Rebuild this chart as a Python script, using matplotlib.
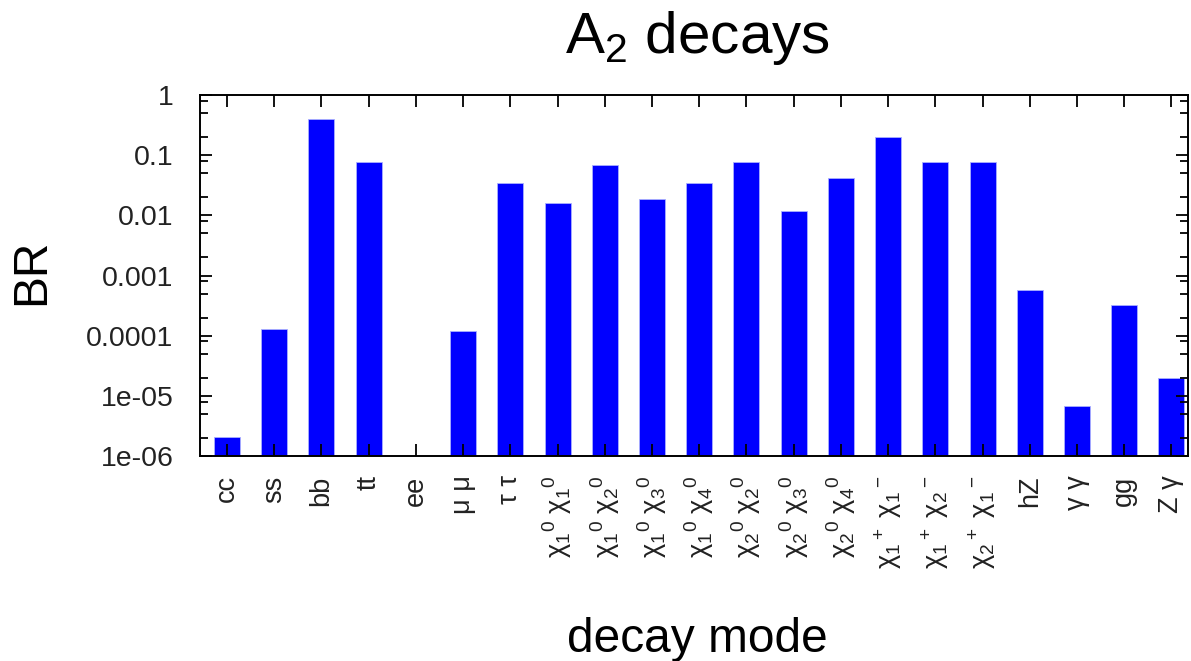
import matplotlib
matplotlib.use('Agg')
import matplotlib.pyplot as plt
from matplotlib.ticker import LogLocator, NullFormatter

plt.rcParams['font.family'] = ['Liberation Sans', 'DejaVu Sans']
plt.rcParams['mathtext.fontset'] = 'custom'
plt.rcParams['mathtext.rm'] = 'Liberation Sans'
plt.rcParams['mathtext.it'] = 'Liberation Sans:italic'
plt.rcParams['mathtext.default'] = 'rm'

# decay modes of A2 and their branching ratios
modes = ['cc', 'ss', 'bb', 'tt', 'ee', 'μ μ', 'τ τ',
         'χ$_1{}^0$ χ$_1{}^0$', 'χ$_1{}^0$ χ$_2{}^0$', 'χ$_1{}^0$ χ$_3{}^0$',
         'χ$_1{}^0$ χ$_4{}^0$', 'χ$_2{}^0$ χ$_2{}^0$', 'χ$_2{}^0$ χ$_3{}^0$',
         'χ$_2{}^0$ χ$_4{}^0$', 'χ$_1{}^+$ χ$_1{}^-$', 'χ$_1{}^+$ χ$_2{}^-$',
         'χ$_2{}^+$ χ$_1{}^-$', 'hZ', 'γ γ', 'gg', 'Z γ']
br = [2.1e-6, 1.3e-4, 0.40, 0.076, 0.0, 1.2e-4, 0.034,
      0.016, 0.069, 0.019, 0.034, 0.076, 0.0118, 0.041,
      0.20, 0.076, 0.076, 5.7e-4, 6.9e-6, 3.2e-4, 2.0e-5]
ytick_vals = [1e-6, 1e-5, 1e-4, 1e-3, 1e-2, 0.1, 1]
ytick_text = ['1e-06', '1e-05', '0.0001', '0.001', '0.01', '0.1', '1']

fig = plt.figure(figsize=(11.91, 6.61), dpi=100)
ax = fig.add_axes([200/1191, 1 - 456/661, 988/1191, 361/661])

x = list(range(len(modes)))
ax.bar(x, br, width=0.55, color='#0000ff', edgecolor='#aab0ff', linewidth=0.6, log=True)

ax.set_yscale('log')
ax.set_ylim(1e-6, 1)
ax.set_xlim(-0.57, 20.35)

ax.yaxis.set_minor_locator(LogLocator(base=10, subs=(2, 5, 8), numticks=20))
ax.yaxis.set_minor_formatter(NullFormatter())
ax.set_yticks(ytick_vals)
ax.set_yticklabels(ytick_text)

ax.set_xticks(x)
ax.set_xticklabels(modes, rotation=90, fontsize=19.5)

ax.tick_params(axis='both', which='both', direction='in', top=True, right=True, width=1.3)
ax.tick_params(axis='both', which='major', length=8.5)
ax.tick_params(axis='both', which='minor', length=5.5)
ax.tick_params(axis='y', labelsize=20.5, pad=19, labelcolor='#222222')
ax.tick_params(axis='x', pad=14, labelcolor='#222222')
for s in ax.spines.values():
    s.set_linewidth(1.4)

fig.text(697/1191, 1 - 53/661, 'A$_2$ decays', fontsize=42, ha='center', va='baseline')
fig.text(697/1191, 1 - 652/661, 'decay mode', fontsize=34.5, ha='center', va='baseline')
fig.text(32/1191, 1 - 272/661, 'BR', fontsize=34.5, rotation=90, ha='center', va='center')

fig.savefig('out.png', dpi=100)
